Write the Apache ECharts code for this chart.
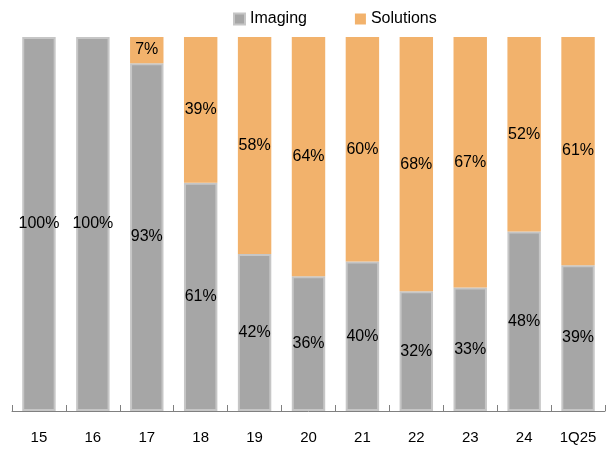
<!DOCTYPE html>
<html>
<head>
<meta charset="utf-8">
<script src="https://cdn.jsdelivr.net/npm/echarts@6/dist/echarts.min.js"></script>
<style>
  html, body { margin: 0; padding: 0; background: #fff; }
  #chart { width: 611px; height: 449px; }
</style>
</head>
<body>
<div id="chart"></div>
<script>
// 年份 / quarters
var categories = ['15', '16', '17', '18', '19', '20', '21', '22', '23', '24', '1Q25'];
// share of revenue, %
var imaging = [100, 100, 93, 61, 42, 36, 40, 32, 33, 48, 39];
var solutions = [0, 0, 7, 39, 58, 64, 60, 68, 67, 52, 61];

var myChart = echarts.init(document.getElementById('chart'));

var labelCfg = {
    show: true,
    position: 'inside',
    color: '#000',
    fontSize: 16,
    fontFamily: 'Liberation Sans',
    formatter: function (p) {
        return p.value > 0 ? p.value + '%' : '';
    }
};

var option = {
    animation: false,
    textStyle: { fontFamily: 'Liberation Sans' },
    legend: {
        top: 6,
        left: 228,
        icon: 'rect',
        itemWidth: 11,
        itemHeight: 11,
        itemGap: 48,
        textStyle: { fontSize: 16, color: '#000' },
        data: ['Imaging', 'Solutions']
    },
    grid: { left: 12, right: 6, top: 37, bottom: 38 },
    xAxis: {
        type: 'category',
        data: categories,
        axisLine: { show: true, lineStyle: { color: '#808080', width: 1 } },
        axisTick: { show: true, inside: true, length: 6, interval: 0, lineStyle: { color: '#808080', width: 1 } },
        axisLabel: { fontSize: 15, color: '#000', margin: 19, interval: 0 }
    },
    yAxis: {
        type: 'value',
        min: 0,
        max: 100,
        show: false,
        splitLine: { show: false }
    },
    series: [
        {
            name: 'Imaging',
            type: 'bar',
            stack: 'mix',
            barWidth: '62%',
            data: imaging,
            itemStyle: { color: '#a6a6a6', borderColor: '#c6c6c6', borderWidth: 2 },
            label: labelCfg
        },
        {
            name: 'Solutions',
            type: 'bar',
            stack: 'mix',
            barWidth: '62%',
            data: solutions,
            itemStyle: { color: '#f2b26c' },
            label: labelCfg
        }
    ]
};
myChart.setOption(option);
</script>
</body>
</html>
